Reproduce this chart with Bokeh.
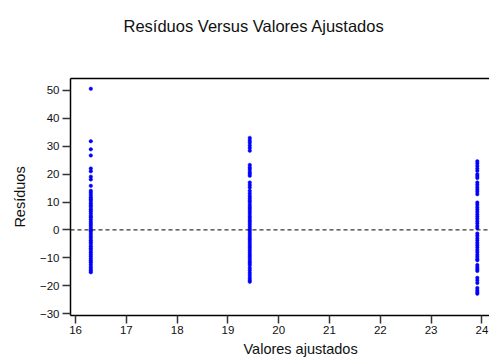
from bokeh.plotting import figure
from bokeh.models import Range1d, LinearAxis, FixedTicker, Span, Title
from bokeh.embed import file_html
from bokeh.resources import INLINE

# Fitted values of the three groups
fit_a = 16.30
fit_b = 19.43
fit_c = 23.91

res_a = [50.6, 31.8, 28.9, 26.7, 22.0, 21.0, 19.1, 18.1, 15.8,
         14.0, 13.3, 12.5, 11.7, 11.0, 10.4, 9.6, 8.8, 8.2, 7.4, 6.7, 5.9,
         5.1, 4.5, 3.7, 2.9, 2.2, 1.5, 0.7, 0.0, -0.6, -1.4, -2.2, -2.9,
         -3.7, -4.4, -5.1, -5.9, -6.6, -7.2, -8.0, -8.8, -9.5, -10.3,
         -11.0, -11.6, -12.4, -13.2, -13.9, -14.6, -15.2]

res_b = [33.0, 32.1, 31.3, 30.3, 29.4, 28.4,
         23.3, 22.4, 21.7, 20.8, 20.1, 19.4,
         17.0, 16.1, 15.2, 14.0, 13.1, 12.2,
         11.4, 10.6, 9.9, 9.0, 8.2, 7.5, 6.7, 5.9, 5.0, 4.3, 3.5, 2.8,
         2.0, 1.2, 0.4, -0.3, -1.1, -1.9, -2.7, -3.4, -4.2, -5.0, -5.8,
         -6.5, -7.3, -8.1, -8.9, -9.6, -10.4, -11.2, -11.9, -12.6,
         -13.6, -14.5, -15.4, -16.3, -17.2, -18.0, -18.6]

res_c = [24.6, 23.8, 22.9, 22.0, 21.2, 20.0, 19.3, 18.6,
         17.0, 16.2, 15.3, 14.5, 13.7, 12.8,
         9.8, 9.0, 8.1, 7.3, 6.5, 5.6, 4.8, 4.0, 3.1, 2.3, 1.4, 0.6,
         -1.3, -2.1, -3.0, -3.8, -4.7, -5.5, -6.3, -7.2, -8.0, -8.9,
         -9.7, -10.5, -10.9, -12.6, -13.4, -14.1, -14.7,
         -17.2, -18.1, -19.0, -20.8, -21.6, -22.3, -22.9]

x_ticks = [16, 17, 18, 19, 20, 21, 22, 23, 24]
y_ticks = [-30, -20, -10, 0, 10, 20, 30, 40, 50]

title_text = "Resíduos Versus Valores Ajustados"
x_label = "Valores ajustados"
y_label = "Resíduos"

xs = [fit_a] * len(res_a) + [fit_b] * len(res_b) + [fit_c] * len(res_c)
ys = res_a + res_b + res_c

FONT = "Liberation Sans"

p = figure(width=489, height=361, output_backend="svg", toolbar_location=None,
           x_range=Range1d(15.9, 24.15), y_range=Range1d(-30.7, 54.3),
           min_border_left=70, min_border_right=0, min_border_top=78,
           min_border_bottom=46)
p.outline_line_color = None
p.grid.visible = False
p.background_fill_color = "white"
p.border_fill_color = "white"

p.title.text = title_text
p.title.text_font = FONT
p.title.text_font_size = "16.5px"
p.title.text_font_style = "normal"
p.title.text_color = "#111111"
p.title.align = "left"
p.title.offset = 53
p.title.standoff = 10

for ax in (p.xaxis[0], p.yaxis[0]):
    ax.axis_line_color = "black"
    ax.axis_line_width = 1.5
    ax.major_tick_line_color = "#333333"
    ax.major_tick_line_width = 1.5
    ax.major_tick_out = 8
    ax.major_tick_in = 0
    ax.minor_tick_line_color = None
    ax.major_label_text_font = FONT
    ax.major_label_text_font_size = "11.5px"
    ax.major_label_text_color = "#111111"
    ax.major_label_standoff = 3

p.xaxis.major_label_standoff = 2
p.xaxis.ticker = FixedTicker(ticks=x_ticks)
p.yaxis.ticker = FixedTicker(ticks=y_ticks)
p.yaxis.axis_label = y_label
p.yaxis.axis_label_text_font = FONT
p.yaxis.axis_label_text_font_size = "14.5px"
p.yaxis.axis_label_text_font_style = "normal"
p.yaxis.axis_label_text_color = "#111111"
p.yaxis.axis_label_standoff = 9

# top frame line, also spacing between frame and title
top_ax = LinearAxis(ticker=FixedTicker(ticks=[]), axis_line_color="black",
                    axis_line_width=1.5, major_label_text_font_size="0px",
                    major_tick_line_color=None, minor_tick_line_color=None,
                    major_tick_out=0, major_tick_in=0, minor_tick_out=0,
                    minor_tick_in=0, major_label_standoff=0,
                    axis_label=".", axis_label_text_font_size="10px",
                    axis_label_text_alpha=0.0, axis_label_standoff=28)
p.add_layout(top_ax, "above")

xlabel = Title(text=x_label, align="left", offset=173,
               text_font=FONT, text_font_size="14.5px",
               text_font_style="normal", text_color="#111111", standoff=4)
p.add_layout(xlabel, "below")

p.add_layout(Span(location=0, dimension="width", line_color="black",
                  line_dash="4 3", line_width=1))

p.scatter(xs, ys, marker="circle", size=3.5, fill_color="#0000ff",
          line_color="#0000ff", line_width=0.5)

open("out.html", "w").write(file_html(p, INLINE))
